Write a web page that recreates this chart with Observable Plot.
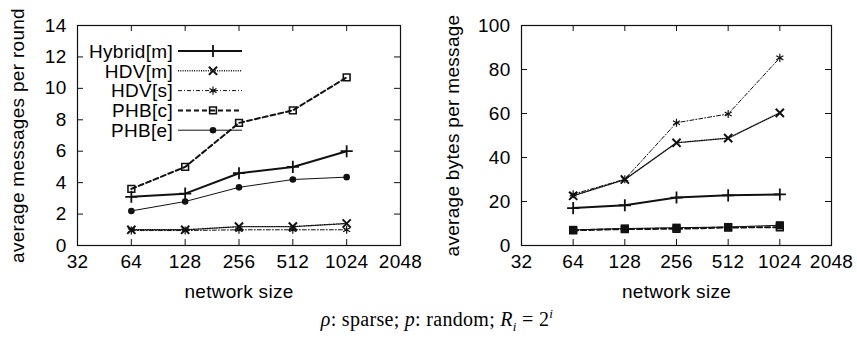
<!DOCTYPE html>
<html><head><meta charset="utf-8">
<script src="https://cdn.jsdelivr.net/npm/d3@7"></script>
<script src="https://cdn.jsdelivr.net/npm/@observablehq/plot@0.6"></script>
<style>
body{margin:0;background:#fff;width:857px;height:339px;position:relative;overflow:hidden;font-family:"Liberation Sans",Arial,sans-serif;}
#left{position:absolute;left:0;top:0;}
#right{position:absolute;left:430px;top:0;}
#legend{position:absolute;left:0;top:0;}
#caption{position:absolute;left:0;width:874px;top:306px;text-align:center;font-family:"Liberation Serif","Times New Roman",serif;font-size:20px;letter-spacing:0.3px;color:#000;}
</style></head>
<body>
<div id="left"></div><div id="right"></div><div id="legend"></div>
<div id="caption"><i>ρ</i>: sparse; <i>p</i>: random; <i>R<sub style="font-size:13px">i</sub></i> = 2<sup style="font-size:13px"><i>i</i></sup></div>
<script>
// ---- data ----
const networkSizes = [64, 128, 256, 512, 1024];
const xTicks = [32, 64, 128, 256, 512, 1024, 2048];
const seriesNames = ["Hybrid[m]", "HDV[m]", "HDV[s]", "PHB[c]", "PHB[e]"];

// left: average messages per round
const msgHybridM = [3.1, 3.3, 4.6, 5.0, 6.0];
const msgHdvM    = [1.0, 1.0, 1.2, 1.2, 1.4];
const msgHdvS    = [0.95, 0.95, 1.0, 1.0, 1.0];
const msgPhbC    = [3.6, 5.0, 7.8, 8.6, 10.7];
const msgPhbE    = [2.2, 2.8, 3.7, 4.2, 4.35];
const msgTicks = [0, 2, 4, 6, 8, 10, 12, 14];

// right: average bytes per message
const bytesHybridM = [17.0, 18.3, 21.8, 22.8, 23.2];
const bytesHdvM    = [22.6, 30.0, 46.7, 48.8, 60.3];
const bytesHdvS    = [23.3, 30.1, 55.8, 59.8, 85.3];
const bytesPhbC    = [6.9, 7.5, 7.6, 8.2, 8.3];
const bytesPhbE    = [7.1, 7.7, 8.1, 8.4, 9.2];
const bytesTicks = [0, 20, 40, 60, 80, 100];

// ---- styles ----
const INK = "#111";
const FONT = '"Liberation Sans", Arial, sans-serif';
const FS = "19px";
const styles = {
  "Hybrid[m]": {strokeWidth: 2, dash: null, symbol: "plus", r: 4, fill: "none", sw: 1.8},
  "HDV[m]":    {strokeWidth: 1.4, dash: "1,1.3", symbol: "times", r: 3.8, fill: "none", sw: 2},
  "HDV[s]":    {strokeWidth: 1, dash: "4,2,1,2", symbol: "asterisk", r: 3.8, fill: "none", sw: 1.2},
  "PHB[c]":    {strokeWidth: 2, dash: "5,3", symbol: "square", r: 3.8, fill: "none", sw: 1.6},
  "PHB[e]":    {strokeWidth: 1, dash: null, symbol: "circle", r: 3.3, fill: INK, sw: 0}
};

function rows(values) {
  return seriesNames.flatMap((s, i) => networkSizes.map((n, j) => ({series: s, x: n, y: values[i][j]})));
}

function panel({values, yTicks, yMax, label, width, marginLeft, marginRight, labelOffset, overrides = {}}) {
  const data = rows(values);
  const H = 306, mt = 25, mb = 61;
  const fh = H - mt - mb, fw = width - marginLeft - marginRight;
  const marks = [];
  for (const s of seriesNames) {
    const st = {...styles[s], ...(overrides[s] || {})};
    const d = data.filter(r => r.series === s);
    marks.push(Plot.line(d, {x: "x", y: "y", stroke: INK, strokeWidth: st.strokeWidth, strokeDasharray: st.dash || undefined}));
    marks.push(Plot.dot(d, {x: "x", y: "y", symbol: () => st.symbol, r: st.r, fill: st.fill, stroke: st.sw ? INK : "none", strokeWidth: st.sw}));
  }
  return Plot.plot({
    width, height: H, marginLeft, marginRight, marginTop: mt, marginBottom: mb,
    style: {fontFamily: FONT, fontSize: FS, letterSpacing: "0.3px", color: "#000", background: "#fff"},
    x: {type: "log", base: 2, domain: [32, 2048]},
    y: {domain: [0, yMax]},
    symbol: {type: "identity"},
    marks: [
      Plot.tickX(xTicks, {x: d => d, insetTop: fh - 6, stroke: INK}),
      Plot.tickX(xTicks, {x: d => d, insetBottom: fh - 6, stroke: INK}),
      Plot.tickY(yTicks, {y: d => d, insetRight: fw - 6, stroke: INK}),
      Plot.tickY(yTicks, {y: d => d, insetLeft: fw - 6, stroke: INK}),
      Plot.axisX(xTicks, {anchor: "bottom", tickSize: 0, tickPadding: 9, tickFormat: d => String(d),
        label: "network size", labelAnchor: "center", labelArrow: "none", labelOffset: 52}),
      Plot.axisY(yTicks, {anchor: "left", tickSize: 0, tickPadding: 11, tickFormat: d => String(d),
        label, labelAnchor: "center", labelArrow: "none", labelOffset}),
      ...marks,
      Plot.frame({stroke: INK, strokeWidth: 1.2})
    ]
  });
}

document.getElementById("left").append(panel({
  values: [msgHybridM, msgHdvM, msgHdvS, msgPhbC, msgPhbE], yTicks: msgTicks, yMax: 14,
  label: "average messages per round", width: 430, marginLeft: 77, marginRight: 30, labelOffset: 67
}));
document.getElementById("right").append(panel({
  values: [bytesHybridM, bytesHdvM, bytesHdvS, bytesPhbC, bytesPhbE], yTicks: bytesTicks, yMax: 100,
  label: "average bytes per message", width: 427, marginLeft: 91, marginRight: 26, labelOffset: 76,
  overrides: {"PHB[e]": {symbol: "square", r: 4.6}}
}));

// ---- legend (left panel) ----
const symMap = {plus: d3.symbolPlus, times: d3.symbolTimes, asterisk: d3.symbolAsterisk, square: d3.symbolSquare, circle: d3.symbolCircle};
const lg = d3.select("#legend").append("svg").attr("width", 430).attr("height", 300)
  .style("font-family", FONT).style("font-size", FS).style("letter-spacing", "0.3px");
seriesNames.forEach((s, i) => {
  const st = styles[s];
  const y = 51 + i * 19.8;
  lg.append("text").attr("x", 173).attr("y", y).attr("dy", "0.36em").attr("text-anchor", "end").attr("fill", "#000").text(s);
  lg.append("line").attr("x1", 178).attr("x2", 242).attr("y1", y).attr("y2", y)
    .attr("stroke", INK).attr("stroke-width", st.strokeWidth).attr("stroke-dasharray", st.dash);
  lg.append("path").attr("transform", `translate(213,${y})`)
    .attr("d", d3.symbol(symMap[st.symbol], st.r * st.r * Math.PI)())
    .attr("fill", st.fill).attr("stroke", st.sw ? INK : "none").attr("stroke-width", st.sw);
});
</script>
</body></html>
